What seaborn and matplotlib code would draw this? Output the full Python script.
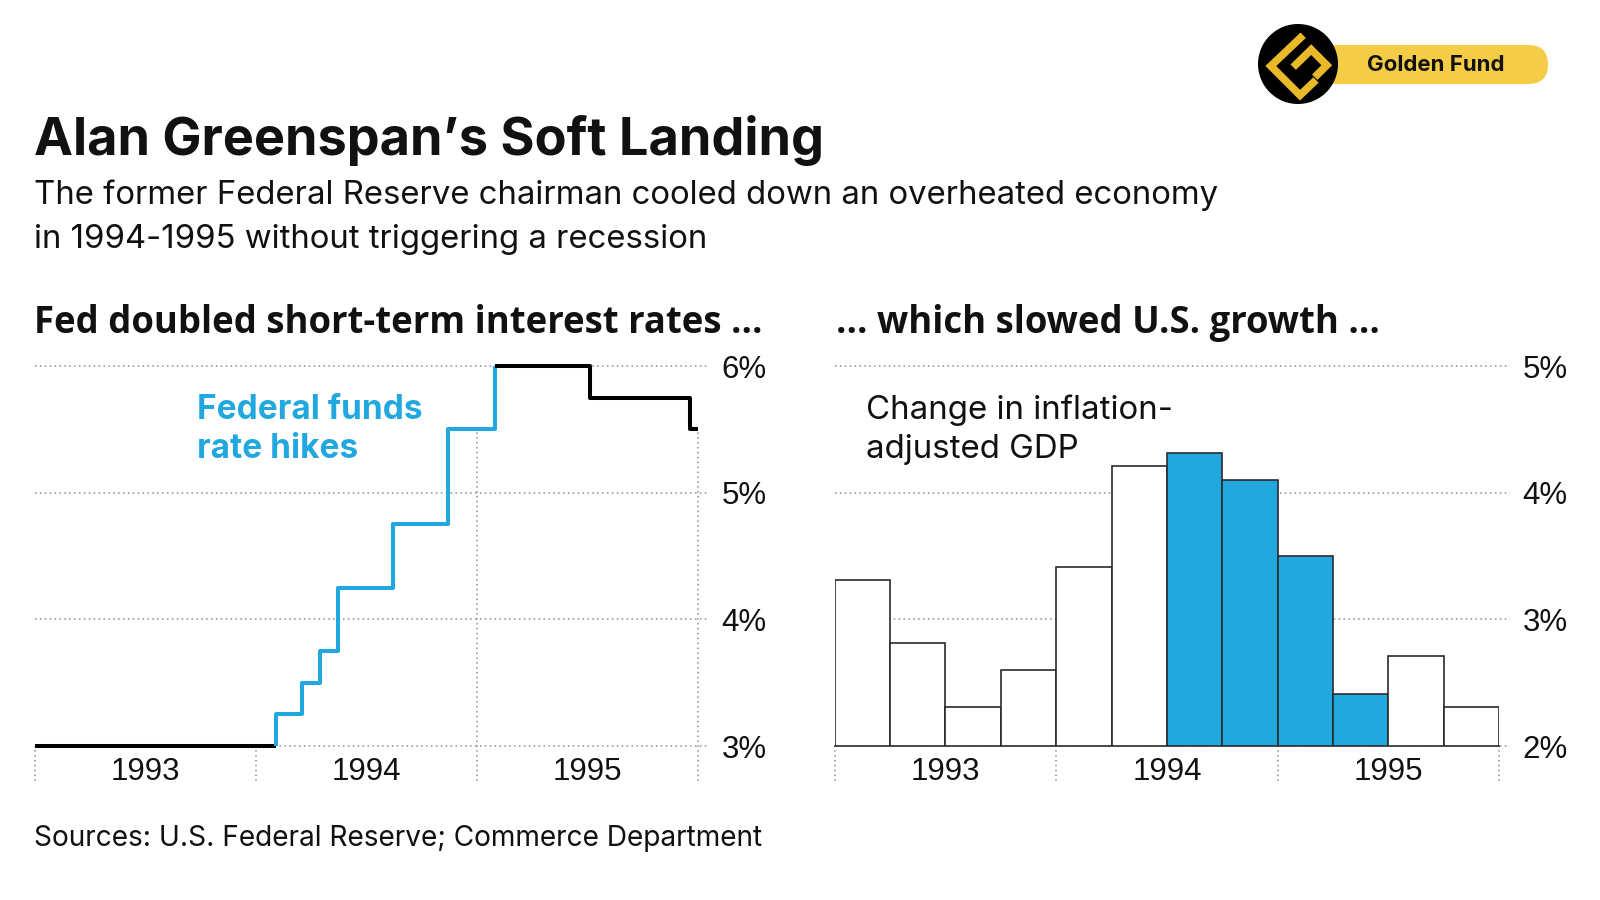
import numpy as np
import pandas as pd
import seaborn as sns
import matplotlib.pyplot as plt
from matplotlib.patches import Circle, FancyBboxPatch

# ---- data ----
# fed funds target: date of each change (decimal year) and the new rate
rate_dates = [1993.0, 1994.09, 1994.21, 1994.29, 1994.37, 1994.62, 1994.87, 1995.08, 1995.51, 1995.965, 1996.0]
rate_values = [3.0, 3.25, 3.5, 3.75, 4.25, 4.75, 5.5, 6.0, 5.75, 5.5, 5.5]
hike_start, hike_end = 1, 7

# real GDP growth, year over year, by quarter
quarters = ['1993 Q1', '1993 Q2', '1993 Q3', '1993 Q4',
            '1994 Q1', '1994 Q2', '1994 Q3', '1994 Q4',
            '1995 Q1', '1995 Q2', '1995 Q3', '1995 Q4']
gdp_growth = [3.31, 2.81, 2.31, 2.60, 3.41, 4.21, 4.31, 4.10, 3.50, 2.41, 2.71, 2.31]
gdp_highlight = [False] * 6 + [True] * 4 + [False] * 2

years = ['1993', '1994', '1995']
rate_ticks = [3, 4, 5, 6]
gdp_ticks = [2, 3, 4, 5]

BLUE = '#21a8df'
GRID = '#8f8f8f'
TICKFONT = ['Liberation Sans', 'DejaVu Sans']
HEADFONT = ['Open Sans', 'DejaVu Sans']

sns.set_style('white')
plt.rcParams['font.family'] = ['Inter', 'DejaVu Sans']

fig = plt.figure(figsize=(16, 9), dpi=100)
fig.patch.set_facecolor('white')


def dotted(ax, xs, ys, z=0.5):
    ax.plot(xs, ys, color=GRID, lw=1.1, ls=(0, (1, 2.2)), clip_on=False, zorder=z)


def rate_at(x):
    i = max(k for k, d in enumerate(rate_dates) if d <= x)
    return rate_values[i]


# ---- left: fed funds rate ----
ax1 = fig.add_axes([0.0217, 0.1711, 0.4146, 0.4222])
ax1.set_xlim(1993, 1996)
ax1.set_ylim(3, 6)
for t in rate_ticks:
    dotted(ax1, [1993, 1996.05], [t, t])
for yr in [1993, 1994, 1995, 1996]:
    dotted(ax1, [yr, yr], [2.726, rate_at(yr)])

rates = pd.DataFrame({'date': rate_dates, 'rate': rate_values})
before = pd.DataFrame({'date': rate_dates[:2], 'rate': [rate_values[0]] * 2})
hikes = pd.concat([pd.DataFrame({'date': [rate_dates[hike_start]], 'rate': [rate_values[0]]}),
                   rates.iloc[hike_start:hike_end + 1]])
after = rates.iloc[hike_end:]

for part, col in [(before, 'black'), (hikes, BLUE), (after, 'black')]:
    sns.lineplot(data=part, x='date', y='rate', color=col, lw=2.9,
                 drawstyle='steps-post', estimator=None, sort=False,
                 solid_capstyle='butt', clip_on=False, ax=ax1, zorder=3)

# ---- right: GDP bars ----
ax2 = fig.add_axes([0.5217, 0.1711, 0.4152, 0.4222])
for t in gdp_ticks:
    dotted(ax2, [-0.5, 11.7], [t, t])
for b in [-0.5, 3.5, 7.5, 11.5]:
    dotted(ax2, [b, b], [1.726, 2])

pal = {q: (BLUE if h else 'white') for q, h in zip(quarters, gdp_highlight)}
sns.barplot(x=quarters, y=gdp_growth, hue=quarters, palette=pal, legend=False,
            saturation=1, width=1, edgecolor='#2b2b2b', linewidth=1.2, ax=ax2, zorder=2)
ax2.set_xlim(-0.5, 11.5)
ax2.set_ylim(2, 5)

for ax, ticks, xt in [(ax1, rate_ticks, [1993.5, 1994.5, 1995.5]), (ax2, gdp_ticks, [1.5, 5.5, 9.5])]:
    ax.set_facecolor('none')
    ax.yaxis.tick_right()
    ax.set_yticks(ticks, labels=[f'{t}%' for t in ticks])
    ax.set_xticks(xt, labels=years)
    ax.tick_params(axis='y', length=0, pad=17, labelsize=22.5, labelcolor='#111111')
    ax.tick_params(axis='x', length=0, pad=8, labelsize=22.5, labelcolor='#111111')
    for lab in ax.get_xticklabels() + ax.get_yticklabels():
        lab.set_family(TICKFONT)
    ax.set_xlabel('')
    ax.set_ylabel('')
    for s in ax.spines.values():
        s.set_visible(False)
ax2.spines['bottom'].set_visible(True)
ax2.spines['bottom'].set_color('#2b2b2b')
ax2.spines['bottom'].set_linewidth(1.2)

# ---- text and logo in pixel coordinates ----
ov = fig.add_axes([0, 0, 1, 1])
ov.set_xlim(0, 1600)
ov.set_ylim(900, 0)
ov.axis('off')
ov.patch.set_alpha(0)

ov.text(34, 155, 'Alan Greenspan\u2019s Soft Landing', fontsize=37.6, fontweight='bold',
        color='#111111', va='baseline')
ov.text(34, 204, 'The former Federal Reserve chairman cooled down an overheated economy',
        fontsize=23.7, color='#111111', va='baseline')
ov.text(34, 248, 'in 1994-1995 without triggering a recession',
        fontsize=23.7, color='#111111', va='baseline')
ov.text(34, 333, 'Fed doubled short-term interest rates ...', fontsize=26.3,
        fontweight='bold', color='#111111', va='baseline', family=HEADFONT)
ov.text(836, 333, '... which slowed U.S. growth ...', fontsize=26.3,
        fontweight='bold', color='#111111', va='baseline', family=HEADFONT)
ov.text(197, 419, 'Federal funds', fontsize=24, fontweight='bold', color=BLUE, va='baseline')
ov.text(197, 458, 'rate hikes', fontsize=24, fontweight='bold', color=BLUE, va='baseline')
ov.text(866, 419, 'Change in inflation-', fontsize=23.8, color='#111111', va='baseline')
ov.text(866, 458, 'adjusted GDP', fontsize=23.8, color='#111111', va='baseline')
ov.text(34, 846, 'Sources: U.S. Federal Reserve; Commerce Department', fontsize=20.2,
        color='#111111', va='baseline')

# logo
ov.add_patch(FancyBboxPatch((1311, 45), 237, 39, boxstyle='round,pad=0,rounding_size=19.5',
                            fc='#f5cc45', ec='none'))
cx, cy, r = 1298, 64, 40
ov.add_patch(Circle((cx, cy), r, fc='black', ec='none', zorder=3))
outer = [(0.13, 0.72), (-0.68, -0.05), (0.05, -0.78), (0.45, -0.40)]
inner = [(-0.12, -0.08), (0.33, 0.36), (0.72, -0.03), (0.42, -0.33)]
for shape in [outer, inner]:
    ov.plot([cx + r * u for u, v in shape], [cy - r * v for u, v in shape],
            color='#e9b92a', lw=5.5, solid_joinstyle='miter', solid_capstyle='butt', zorder=4)
ov.text(1436, 65, 'Golden Fund', fontsize=16, fontweight='bold', color='#111111',
        ha='center', va='center', zorder=5)

fig.savefig('out.png', dpi=100)
